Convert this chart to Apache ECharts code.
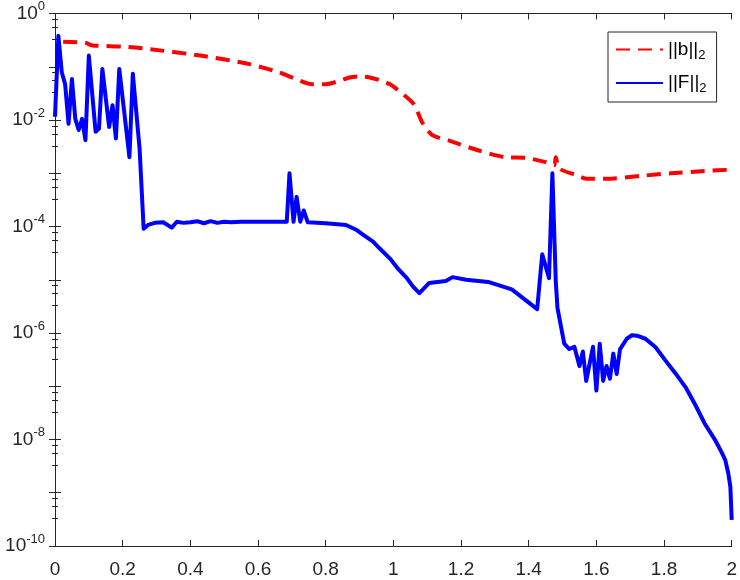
<!DOCTYPE html>
<html>
<head>
<meta charset="utf-8">
<script src="https://cdn.jsdelivr.net/npm/echarts@6/dist/echarts.min.js"></script>
<style>
  html, body { margin: 0; padding: 0; background: #fff; }
  #chart { width: 740px; height: 580px; }
</style>
</head>
<body>
<div id="chart"></div>
<script>
// ||b||_2 (red dashed)
const bX = [0.024, 0.09, 0.11, 0.2, 0.28, 0.43, 0.575, 0.66, 0.72, 0.76, 0.80, 0.84, 0.87, 0.90, 0.93, 0.96, 0.99, 1.01, 1.06, 1.085, 1.115, 1.165, 1.25, 1.33, 1.39, 1.45, 1.475, 1.48, 1.49, 1.54, 1.57, 1.63, 1.73, 1.82, 1.92, 2.0];
const bY = [2.95e-1, 2.82e-1, 2.51e-1, 2.4e-1, 2.14e-1, 1.62e-1, 1.12e-1, 7.9e-2, 5.6e-2, 4.7e-2, 4.7e-2, 5.4e-2, 6.3e-2, 6.6e-2, 6.3e-2, 5.6e-2, 4.7e-2, 3.8e-2, 2.0e-2, 9.1e-3, 5.2e-3, 4.1e-3, 2.7e-3, 2.0e-3, 1.95e-3, 1.62e-3, 1.41e-3, 2.0e-3, 1.23e-3, 9.3e-4, 7.9e-4, 7.9e-4, 8.9e-4, 1.0e-3, 1.1e-3, 1.17e-3];

// ||F||_2 (blue solid)
const fX = [0, 0.01, 0.02, 0.03, 0.04, 0.05, 0.06, 0.07, 0.08, 0.09, 0.10, 0.12, 0.13, 0.14, 0.16, 0.17, 0.18, 0.19, 0.22, 0.23, 0.25, 0.262, 0.275, 0.295, 0.32, 0.345, 0.36, 0.38, 0.40, 0.42, 0.44, 0.46, 0.48, 0.50, 0.52, 0.55, 0.60, 0.65, 0.685, 0.693, 0.705, 0.714, 0.725, 0.735, 0.747, 0.80, 0.86, 0.89, 0.909, 0.94, 0.959, 0.99, 1.012, 1.04, 1.057, 1.077, 1.106, 1.155, 1.175, 1.215, 1.28, 1.35, 1.425, 1.44, 1.46, 1.47, 1.48, 1.485, 1.505, 1.52, 1.535, 1.55, 1.56, 1.57, 1.59, 1.60, 1.61, 1.62, 1.63, 1.64, 1.65, 1.66, 1.67, 1.69, 1.705, 1.72, 1.745, 1.775, 1.805, 1.834, 1.865, 1.893, 1.92, 1.952, 1.97, 1.981, 1.99, 1.996, 2.0];
const fY = [1.15e-2, 3.8e-1, 7.9e-2, 4.7e-2, 8.5e-3, 5.9e-2, 1.05e-2, 6.5e-3, 1.05e-2, 4.2e-3, 1.62e-1, 6.0e-3, 6.9e-3, 9.1e-2, 7.4e-3, 1.9e-2, 4.5e-3, 9.1e-2, 2.0e-3, 7.4e-2, 2.9e-3, 9.1e-5, 1.07e-4, 1.17e-4, 1.2e-4, 9.5e-5, 1.23e-4, 1.17e-4, 1.2e-4, 1.26e-4, 1.15e-4, 1.26e-4, 1.17e-4, 1.23e-4, 1.2e-4, 1.23e-4, 1.23e-4, 1.23e-4, 1.23e-4, 1.0e-3, 1.23e-4, 3.6e-4, 1.23e-4, 2.0e-4, 1.2e-4, 1.15e-4, 1.07e-4, 8.7e-5, 7.1e-5, 5.2e-5, 3.9e-5, 2.5e-5, 1.66e-5, 1.07e-5, 7.6e-6, 5.6e-6, 8.7e-6, 9.5e-6, 1.12e-5, 1.0e-5, 9.1e-6, 6.6e-6, 2.8e-6, 3.0e-5, 1.07e-5, 1.0e-3, 9.3e-6, 2.95e-6, 6.3e-7, 5.0e-7, 5.5e-7, 2.4e-7, 4.5e-7, 1.26e-7, 5.5e-7, 8.3e-8, 6.3e-7, 1.26e-7, 2.4e-7, 1.38e-7, 4.1e-7, 1.7e-7, 5.0e-7, 7.8e-7, 9.1e-7, 8.9e-7, 7.8e-7, 5.4e-7, 3.0e-7, 1.74e-7, 9.3e-8, 4.4e-8, 2.0e-8, 9.5e-9, 5.8e-9, 4.1e-9, 2.3e-9, 1.29e-9, 3.1e-10];

const xTicks = [0, 0.2, 0.4, 0.6, 0.8, 1, 1.2, 1.4, 1.6, 1.8, 2];
const seriesNames = ['||b||{sub|2}', '||F||{sub|2}'];

const axisColor = '#262626';
const font = '"Liberation Sans", Arial, sans-serif';

const chart = echarts.init(document.getElementById('chart'), null, { renderer: 'canvas' });

function pairs(xs, ys) { return xs.map((x, i) => [x, ys[i]]); }

const xCommon = {
  type: 'value', min: 0, max: 2, interval: 0.2,
  axisLine: { show: true, onZero: false, lineStyle: { color: axisColor, width: 1 } },
  axisTick: { show: true, inside: true, length: 6, lineStyle: { color: axisColor } },
  splitLine: { show: false }
};
const yCommon = {
  type: 'log', logBase: 10, min: 1e-10, max: 1, interval: 1,
  axisLine: { show: true, lineStyle: { color: axisColor, width: 1 } },
  axisTick: { show: true, inside: true, length: 6, lineStyle: { color: axisColor } },
  minorTick: { show: true, splitNumber: 4, length: 3, lineStyle: { color: axisColor } },
  splitLine: { show: false }
};

chart.setOption({
  backgroundColor: '#fff',
  animation: false,
  grid: { left: 55, right: 7, top: 11, bottom: 34 },
  legend: {
    left: 608, top: 32,
    orient: 'vertical',
    data: seriesNames,
    itemWidth: 47, itemHeight: 14, itemGap: 12,
    padding: [8, 10, 7, 7],
    borderColor: axisColor, borderWidth: 1,
    backgroundColor: '#fff',
    itemStyle: { opacity: 0 },
    textStyle: {
      fontFamily: font, fontSize: 19, color: '#000',
      rich: { sub: { fontFamily: font, fontSize: 13, color: '#000', padding: [11, 0, 0, 0] } }
    }
  },
  xAxis: [
    Object.assign({}, xCommon, {
      position: 'bottom',
      axisLabel: {
        show: true, margin: 14, fontFamily: font, fontSize: 19, color: axisColor,
        formatter: v => xTicks.indexOf(Math.round(v * 10) / 10) >= 0 ? String(Math.round(v * 10) / 10) : ''
      }
    }),
    Object.assign({}, xCommon, { position: 'top', axisLabel: { show: false } })
  ],
  yAxis: [
    Object.assign({}, yCommon, {
      position: 'left',
      axisLabel: {
        show: true, margin: 10, fontFamily: font, fontSize: 19, color: axisColor,
        formatter: v => {
          const e = Math.round(Math.log10(v));
          return e % 2 === 0 ? '10{sup|' + e + '}' : '';
        },
        rich: { sup: { fontFamily: font, fontSize: 13, color: axisColor, padding: [0, 0, 14, 0] } }
      }
    }),
    Object.assign({}, yCommon, { position: 'right', axisLabel: { show: false } })
  ],
  series: [
    {
      name: seriesNames[0], type: 'line', xAxisIndex: 0, yAxisIndex: 0,
      data: pairs(bX, bY), showSymbol: false, symbol: 'none', smooth: 0.25,
      lineStyle: { color: '#ff0000', width: 4, type: [14, 8] },
      itemStyle: { color: '#ff0000' }
    },
    {
      name: seriesNames[1], type: 'line', xAxisIndex: 0, yAxisIndex: 0,
      data: pairs(fX, fY), showSymbol: false, symbol: 'none',
      lineStyle: { color: '#0000ff', width: 4, join: 'round' },
      itemStyle: { color: '#0000ff' }
    }
  ]
});
</script>
</body>
</html>
